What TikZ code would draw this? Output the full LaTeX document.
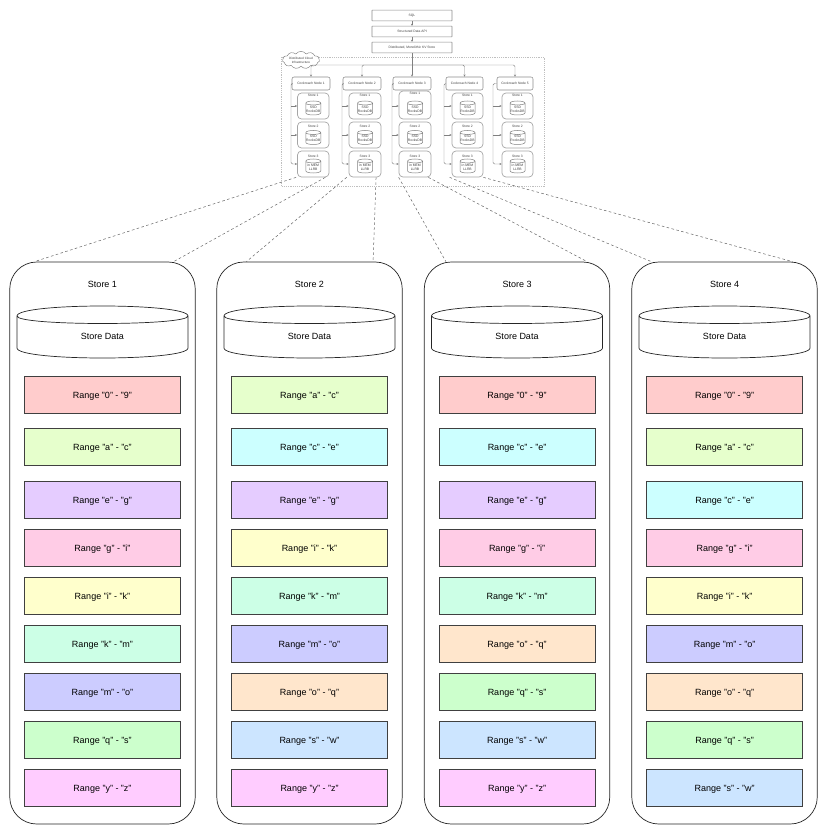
\documentclass[tikz,border=0pt]{standalone}
\usepackage{fontspec}
\setmainfont{Liberation Sans}
\usetikzlibrary{arrows.meta,shapes.symbols,calc}
\definecolor{czn}{HTML}{FFCCCC}
\definecolor{cac}{HTML}{E6FFCC}
\definecolor{cce}{HTML}{CCFFFF}
\definecolor{ceg}{HTML}{E5CCFF}
\definecolor{cgi}{HTML}{FFCCE6}
\definecolor{cik}{HTML}{FFFFCC}
\definecolor{ckm}{HTML}{CCFFE6}
\definecolor{cmo}{HTML}{CCCCFF}
\definecolor{coq}{HTML}{FFE6CC}
\definecolor{cqs}{HTML}{CCFFCC}
\definecolor{csw}{HTML}{CCE5FF}
\definecolor{cyz}{HTML}{FFCCFF}
\newcommand{\lbzn}{Range "0" - "9"}
\newcommand{\lbac}{Range "a" - "c"}
\newcommand{\lbce}{Range "c" - "e"}
\newcommand{\lbeg}{Range "e" - "g"}
\newcommand{\lbgi}{Range "g" - "i"}
\newcommand{\lbik}{Range "i" - "k"}
\newcommand{\lbkm}{Range "k" - "m"}
\newcommand{\lbmo}{Range "m" - "o"}
\newcommand{\lboq}{Range "o" - "q"}
\newcommand{\lbqs}{Range "q" - "s"}
\newcommand{\lbsw}{Range "s" - "w"}
\newcommand{\lbyz}{Range "y" - "z"}
% cylinder in the draw.io form: centre x, centre y, width, height, dy, line style
\newcommand{\cyl}[6]{%
  \draw[#6] (#1-#3/2,#2-#4/2+#5)
    .. controls (#1-#3/2,#2-#4/2-#5/3) and (#1+#3/2,#2-#4/2-#5/3) .. (#1+#3/2,#2-#4/2+#5)
    -- (#1+#3/2,#2+#4/2-#5)
    .. controls (#1+#3/2,#2+#4/2+#5/3) and (#1-#3/2,#2+#4/2+#5/3) .. (#1-#3/2,#2+#4/2-#5)
    -- cycle
    (#1-#3/2,#2-#4/2+#5)
    .. controls (#1-#3/2,#2-#4/2+2*#5) and (#1+#3/2,#2-#4/2+2*#5) .. (#1+#3/2,#2-#4/2+#5);}
\tikzset{
  bigstore/.style={draw=black!85,line width=.7pt,rounded corners=27pt,minimum width=185.5pt,minimum height=562pt,inner sep=0pt},
  rangebox/.style={draw=black!75,line width=.8pt,minimum width=156pt,minimum height=37pt,inner sep=0pt,font=\fontsize{9}{11}\selectfont},
  biglabel/.style={inner sep=0pt,font=\fontsize{9}{11}\selectfont},
  smalltext/.style={inner sep=0pt,align=center,text=black!75,font=\fontsize{3.3}{4.2}\selectfont},
  disktext/.style={inner sep=0pt,align=center,text=black!75,font=\fontsize{3.4}{4.5}\selectfont},
  topbox/.style={draw=black!45,line width=.55pt,rounded corners=.4pt,minimum width=80pt,minimum height=10.7pt,inner sep=0pt,text=black!75,font=\fontsize{3.3}{4.2}\selectfont},
  crnode/.style={draw=black!45,line width=.55pt,rounded corners=2pt,minimum height=13pt,inner sep=0pt,text=black!75,font=\fontsize{3.3}{4.2}\selectfont},
  smallstore/.style={draw=black!35,line width=.7pt,rounded corners=4pt,inner sep=0pt},
  smallcyl/.style={draw=black!50,line width=.5pt},
  wire/.style={draw=black!50,line width=.4pt,-{Stealth[length=2.2pt,width=2pt]}},
  wirecurve/.style={wire,rounded corners=1.5pt},
  frame/.style={draw=black!25,line width=.5pt,dash pattern=on 1.2pt off 1pt},
  link/.style={draw=black!60,line width=.5pt,dash pattern=on 2.6pt off 2.4pt},
}
\begin{document}
\begin{tikzpicture}[x=1pt,y=-1pt]
\useasboundingbox (0,0) rectangle (834,837);
\fill[white] (0,0) rectangle (834,837);

% frame and cloud
\node[frame,minimum width=262.5pt,minimum height=129pt,inner sep=0pt] (frame) at (412.75,122) {};
\node[draw=black!50,fill=white,line width=.45pt,cloud,cloud puffs=11,cloud puff arc=110,aspect=2.6,minimum width=37pt,minimum height=16pt,inner sep=0pt,smalltext,font=\fontsize{3.1}{4}\selectfont] (cloud) at (301,60) {Distributed Cloud\\Infrastructure};

% top stack
\node[topbox] (sql) at (412,15.5) {SQL};
\node[topbox] (api) at (412,31.5) {Structured Data API};
\node[topbox] (kv) at (412,47.5) {Distributed, Monolithic KV Store};
\draw[wire] (sql) -- (api);
\draw[wire] (api) -- (kv);
\coordinate (bus) at (412,65);

% Cockroach nodes: number, node left, node right, store left, store right, spine x, top of first store
\foreach \i/\nl/\nr/\sl/\sr/\sp/\st in {1/292/330/297.5/329/291/93,2/343/381/349/381/342/93,3/393/431/399/431/392/91,4/446/483/452/483/444/93,5/497/533/502/533/493/93}{
  \pgfmathsetmacro\ncx{(\nl+\nr)/2}
  \pgfmathsetmacro\nw{\nr-\nl}
  \pgfmathsetmacro\scx{(\sl+\sr)/2}
  \pgfmathsetmacro\sw{\sr-\sl}
  \node[crnode,minimum width=\nw pt] (n\i) at (\ncx,83.5) {Cockroach Node \i};
  % stores
  \pgfmathsetmacro\fh{119-\st}
  \pgfmathsetmacro\fc{(119+\st)/2}
  \node[smallstore,minimum width=\sw pt,minimum height=\fh pt] (s\i-1) at (\scx,\fc) {};
  \node[smallstore,minimum width=\sw pt,minimum height=26pt] (s\i-2) at (\scx,135) {};
  \node[smallstore,minimum width=\sw pt,minimum height=26pt] (s\i-3) at (\scx,164) {};
  \node[smalltext] (sl\i-1) at (\scx,\st+2.5) {Store 1};
  \node[smalltext] (sl\i-2) at (\scx,126.7) {Store 2};
  \node[smalltext] (sl\i-3) at (\scx,156) {Store 3};
  \cyl{\scx}{108}{15}{14}{2.2}{smallcyl}
  \cyl{\scx}{137.5}{15}{14}{2.2}{smallcyl}
  \cyl{\scx}{166}{15}{14}{2.2}{smallcyl}
  \node[disktext] (sd\i-1) at (\scx,109.5) {SSD\\RocksDB};
  \node[disktext] (sd\i-2) at (\scx,138.3) {SSD\\RocksDB};
  \node[disktext] (sd\i-3) at (\scx,167.5) {in MEM\\LLRB};
  % wires
  \draw[wirecurve] (n\i.west) -- (\sp,83.5) -- (\sp,164) -- (s\i-3.west);
  \draw[wire] (\sp,106) -- (s\i-1.west |- 0,106);
  \draw[wire] (\sp,135) -- (s\i-2.west);
  \ifnum\i=3
    \draw[wire] (bus) -- (n3.north);
  \else
    \draw[wirecurve] (bus) -| (n\i.north);
  \fi
}
\draw[draw=black!50,line width=.4pt] (kv.south) -- (bus);

% big stores
\foreach \s/\cx/\lst in {
  1/102.5/{zn,ac,eg,gi,ik,km,mo,qs,yz},
  2/309.5/{ac,ce,eg,ik,km,mo,oq,sw,yz},
  3/517/{zn,ce,eg,gi,km,oq,qs,sw,yz},
  4/724.5/{zn,ac,ce,gi,ik,mo,oq,qs,sw}}{
  \node[bigstore] (store\s) at (\cx,543) {};
  \node[biglabel] (title\s) at (\cx,284) {Store \s};
  \cyl{\cx}{332}{171}{52}{10}{draw=black!85,line width=.7pt}
  \node[biglabel] (data\s) at (\cx,336) {Store Data};
  \foreach \k [count=\r] in \lst {
    \pgfmathsetmacro\yy{\r<3 ? 394.5+52*(\r-1) : 499.5+48*(\r-3)}
    \node[rangebox,fill=c\k] (r\s-\r) at (\cx,\yy) {\raisebox{-4.2pt}[0pt][0pt]{\csname lb\k\endcsname}};
  }
}

% dashed links
\draw[link] ([xshift=-1pt]s1-3.south west) -- ([xshift=25pt]store1.north west);
\draw[link] ([xshift=-4pt]s1-3.south east) -- ([xshift=-22pt]store1.north east);
\draw[link] ([xshift=-2pt]s2-3.south west) -- ([xshift=30pt]store2.north west);
\draw[link] ([xshift=-5.3pt]s2-3.south east) -- ([xshift=-29.5pt]store2.north east);
\draw[link] (s3-3.south west) -- ([xshift=22pt]store3.north west);
\draw[link] ([xshift=-3pt]s3-3.south east) -- ([xshift=-23pt]store3.north east);
\draw[link] ([xshift=-2pt]s4-3.south west) -- ([xshift=20pt]store4.north west);
\draw[link] (s4-3.south east) -- ([xshift=-25pt]store4.north east);
\end{tikzpicture}
\end{document}
